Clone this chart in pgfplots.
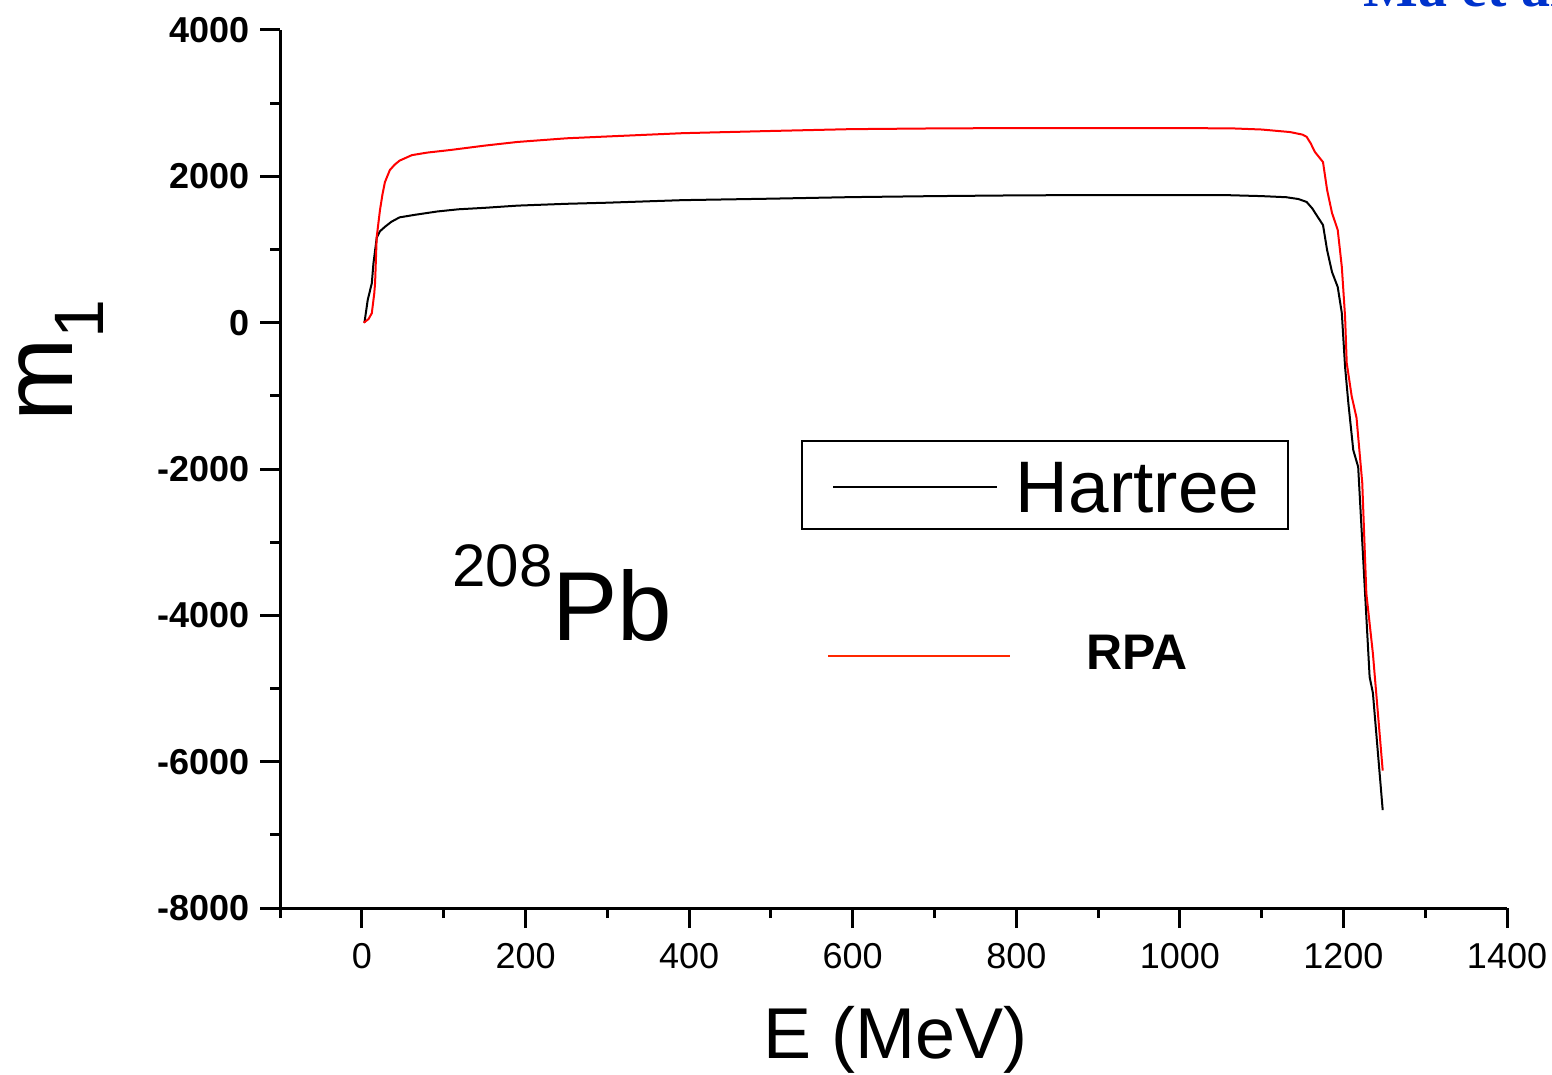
\documentclass[border=0pt]{standalone}
\usepackage{fontspec}
\setmainfont{Liberation Sans}
\newfontfamily\serifbf{Liberation Serif Bold}
\usepackage{pgfplots}
\pgfplotsset{compat=1.18}
\definecolor{LegendRed}{RGB}{255,40,0}
\definecolor{TitleBlue}{RGB}{0,51,204}

\begin{document}
\begin{tikzpicture}
\begin{axis}[
  x=0.40895pt, y=0.036585pt,
  xmin=-100, xmax=1400, ymin=-8000, ymax=4000,
  axis x line*=bottom, axis y line*=left,
  axis line style={line width=1.5pt},
  tick style={black, line width=1.5pt},
  tick align=outside,
  major tick length=10pt, minor tick length=5pt,
  xtick={0,200,...,1400}, minor xtick={-100,100,...,1300},
  ytick={-8000,-6000,...,4000}, minor ytick={-7000,-5000,...,3000},
  scaled ticks=false,
  /pgf/number format/assume math mode=true,
  /pgf/number format/1000 sep={},
  xticklabel style={font=\fontsize{18}{18}\selectfont, yshift=-4pt},
  yticklabel style={font=\fontsize{18}{18}\selectfont\bfseries, xshift=-2pt},
  xlabel={E (MeV)}, ylabel={m\textsubscript{1}},
  x label style={at={(axis description cs:0.5013,-0.1707)}, anchor=base,
    font=\fontsize{36}{36}\selectfont},
  y label style={at={(axis description cs:-0.1690,0.624)}, anchor=base,
    font=\fontsize{50}{50}\selectfont},
  clip=false,
]
% Hartree
\addplot[black, line width=1pt] coordinates {
  (3,0)(7,310)(12,540)(14,810)(18,1160)(22,1250)(28,1310)(36,1380)(46,1440)
  (65,1475)(92,1520)(118,1550)(150,1570)(190,1600)(250,1625)(300,1640)
  (392,1675)(500,1695)(597,1716)(700,1730)(800,1740)(900,1745)(1000,1745)
  (1052,1745)(1100,1730)(1130,1715)(1145,1690)(1155,1650)(1162,1560)
  (1167,1472)(1175,1335)(1180,993)(1186,693)(1193,488)(1198,132)(1202,-605)
  (1206,-1100)(1212,-1740)(1218,-1970)(1232,-4840)(1236,-5060)(1248,-6660)
};
% RPA
\addplot[red, line width=1pt] coordinates {
  (2,0)(8,50)(12,130)(15,400)(16,540)(18,1170)(22,1540)(25,1750)(28,1920)
  (34,2085)(40,2160)(46,2215)(61,2290)(80,2325)(108,2360)(150,2420)
  (190,2470)(250,2520)(300,2545)(392,2590)(500,2620)(597,2645)(700,2655)
  (800,2660)(900,2660)(1000,2660)(1065,2655)(1100,2640)(1135,2605)
  (1150,2570)(1155,2540)(1160,2450)(1165,2335)(1175,2195)(1180,1815)
  (1186,1500)(1193,1268)(1198,763)(1202,80)(1204,-550)(1210,-1000)
  (1216,-1300)(1223,-2190)(1228,-3700)(1236,-4520)(1248,-6120)
};

% legend
\draw[line width=1.2pt] (axis cs:538,-1617) rectangle (axis cs:1132,-2820);
\draw[black, line width=0.8pt] (axis cs:576,-2245) -- (axis cs:776,-2245);
\node[anchor=base west, inner sep=0pt, font=\fontsize{36.5}{36.5}\selectfont]
  at (axis cs:799,-2587) {Hartree};
\draw[LegendRed, line width=1pt] (axis cs:570,-4553) -- (axis cs:792,-4553);
\node[anchor=base west, inner sep=0pt, font=\fontsize{25}{25}\selectfont\bfseries]
  at (axis cs:885,-4733) {RPA};

% nucleus label
\node[anchor=base west, inner sep=0pt] at (axis cs:110,-4339)
  {\raisebox{27pt}{\fontsize{30}{30}\selectfont 208}\fontsize{49}{49}\selectfont Pb};

% cut-off citation at the top right
\node[anchor=base west, inner sep=0pt, text=TitleBlue,
  font=\fontsize{29}{29}\serifbf] at (axis cs:1224,4315) {Ma et al.};

\coordinate (tl) at (axis cs:-442.6,4410);
\coordinate (br) at (axis cs:1455,-10268);
\end{axis}
\pgfresetboundingbox
\path[use as bounding box] (tl) rectangle (br);
\end{tikzpicture}
\end{document}
